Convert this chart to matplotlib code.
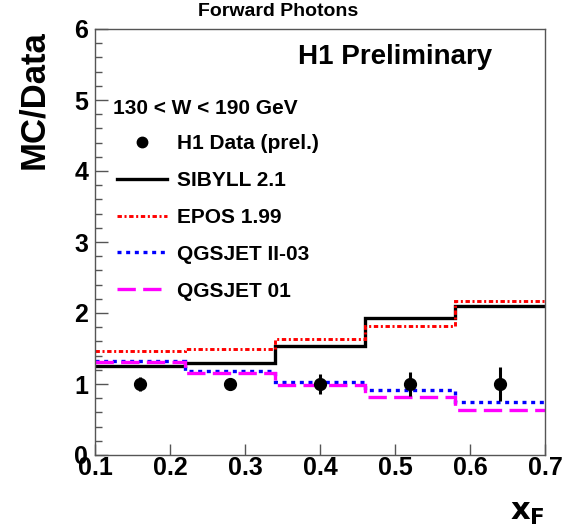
import numpy as np
import matplotlib
matplotlib.use("Agg")
import matplotlib.pyplot as plt
from matplotlib.lines import Line2D
from matplotlib.ticker import MultipleLocator, FixedLocator, FormatStrFormatter

plt.rcParams['font.family'] = ['Liberation Sans', 'DejaVu Sans']
plt.rcParams['font.weight'] = 'bold'

# bins in x_F
edges = [0.1, 0.22, 0.34, 0.46, 0.58, 0.7]
x_data = [0.16, 0.28, 0.40, 0.52, 0.64]
y_data = [1.0, 1.0, 1.0, 1.0, 1.0]
y_err = [0.10, 0.09, 0.14, 0.17, 0.24]

sibyll = [1.26, 1.29, 1.53, 1.93, 2.10]
epos = [1.46, 1.49, 1.63, 1.82, 2.17]
qgsjet2 = [1.32, 1.19, 1.03, 0.91, 0.74]
qgsjet1 = [1.31, 1.16, 0.98, 0.81, 0.64]

xticks = [0.1, 0.2, 0.3, 0.4, 0.5, 0.6, 0.7]

red_ls = (0, (1.5, 0.9, 0.7, 0.9))
blue_ls = (0, (1.2, 1.4))
mag_ls = (0, (5.5, 2.2))

fig = plt.figure(figsize=(5.64, 5.30), dpi=100)
ax = fig.add_axes([95/564, 1-455/530, 450/564, 426/530])

ax.stairs(sibyll, edges, baseline=None, color='black', lw=2.4)
ax.stairs(epos, edges, baseline=None, color='#ff0000', lw=2.1, linestyle=red_ls)
ax.stairs(qgsjet2, edges, baseline=None, color='#0000ff', lw=2.4, linestyle=blue_ls)
ax.stairs(qgsjet1, edges, baseline=None, color='#ff00ff', lw=2.4, linestyle=mag_ls)
ax.errorbar(x_data, y_data, yerr=y_err, fmt='o', color='black', ms=8.5,
            elinewidth=2.2, capsize=0)

ax.set_xlim(0.1, 0.7)
ax.set_ylim(0, 6)
ax.xaxis.set_major_locator(FixedLocator(xticks))
ax.xaxis.set_major_formatter(FormatStrFormatter('%.1f'))
ax.yaxis.set_major_locator(MultipleLocator(1))
ax.yaxis.set_minor_locator(MultipleLocator(0.2))
ax.tick_params(axis='both', which='both', direction='in', top=False, right=False,
               labelsize=18, color='#555555')
ax.tick_params(axis='x', which='major', length=8, width=1, pad=1)
ax.tick_params(axis='y', which='major', length=9, width=1, pad=5)
ax.tick_params(axis='y', which='minor', length=5, width=1)
for s in ax.spines.values():
    s.set_linewidth(1.0)
    s.set_color('#555555')

fig.text(17/564, 1-30/530, 'MC/Data', rotation=90, fontsize=25,
         fontweight='bold', ha='left', va='top')
fig.text(545/564, 1-512/530, r'$\mathbf{x_F}$', fontsize=22, ha='right',
         va='center')
fig.text(278/564, 1-11/530, 'Forward Photons', fontsize=14, ha='center',
         va='center')
ax.text(0.882, 0.934, 'H1 Preliminary', fontsize=20, ha='right', va='center',
        transform=ax.transAxes)
ax.text(0.04, 0.814, '130 < W < 190 GeV', fontsize=15, ha='left',
        va='center', transform=ax.transAxes)

handles = [
    Line2D([], [], color='black', marker='o', ms=7.5, linestyle='none'),
    Line2D([], [], color='black', lw=2.4),
    Line2D([], [], color='#ff0000', lw=2.1, linestyle=red_ls),
    Line2D([], [], color='#0000ff', lw=2.4, linestyle=blue_ls),
    Line2D([], [], color='#ff00ff', lw=2.4, linestyle=mag_ls),
]
labels = ['H1 Data (prel.)', 'SIBYLL 2.1', 'EPOS 1.99', 'QGSJET II-03',
          'QGSJET 01']
ax.legend(handles, labels, loc='upper left',
          bbox_to_anchor=((117-95)/450, (455-134)/426),
          frameon=False, fontsize=15, handlelength=2.4, handletextpad=0.5,
          labelspacing=0.86, borderaxespad=0, borderpad=0)

fig.savefig('out.png', dpi=100)
